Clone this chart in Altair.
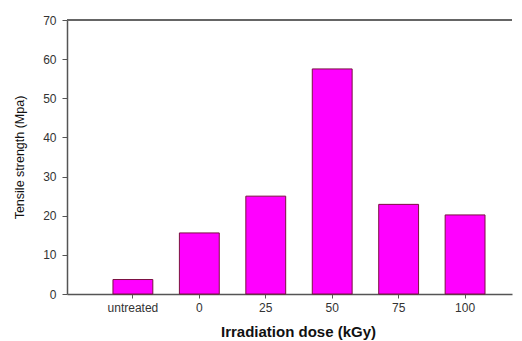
import altair as alt
import pandas as pd

categories = ["untreated", "0", "25", "50", "75", "100"]
strength = [3.7, 15.6, 25.0, 57.5, 22.9, 20.2]
y_ticks = [0, 10, 20, 30, 40, 50, 60, 70]

df = pd.DataFrame({"dose": categories, "strength": strength})

FONT = "Liberation Sans"

bars = alt.Chart(df).mark_bar(
    color="#FF00FF", stroke="#7a1040", strokeWidth=1
).encode(
    x=alt.X("dose:N", sort=categories,
            scale=alt.Scale(paddingInner=0.4, paddingOuter=0.549, align=0.63),
            axis=alt.Axis(title="Irradiation dose (kGy)", labelAngle=0,
                          tickSize=4, labelPadding=4, labelFontSize=12,
                          labelColor="#333", labelFont=FONT,
                          titleFont=FONT, titleFontSize=15, titleFontWeight="bold",
                          titleColor="#111", titleBaseline="alphabetic",
                          titleX=231, titleY=42, titleAnchor="middle", titleAlign="center",
                          domainColor="#555", domainWidth=1.5, tickColor="#555")),
    y=alt.Y("strength:Q",
            scale=alt.Scale(domain=[0, 70], nice=False),
            axis=alt.Axis(title="Tensile strength (Mpa)", values=y_ticks,
                          tickSize=5, labelPadding=6, labelFontSize=12,
                          labelColor="#333", labelFont=FONT, grid=False,
                          titleFont=FONT, titleFontSize=12.5, titleFontWeight="normal",
                          titleColor="#111", titleAngle=270, titleBaseline="alphabetic",
                          titleX=-44, titleY=137, titleAlign="center",
                          domainColor="#555", domainWidth=1.5, tickColor="#555")),
)

top_line = alt.Chart(df).mark_rule(
    color="#666", strokeWidth=1.5
).encode(y=alt.value(0))

chart = alt.layer(bars, top_line).properties(
    width=445, height=274,
    autosize=alt.AutoSizeParams(type="none"),
    padding={"left": 59, "top": 12, "right": 2, "bottom": 47},
).configure_view(stroke=None)

chart.save("out.html", embed_options={"renderer": "svg", "actions": False})
